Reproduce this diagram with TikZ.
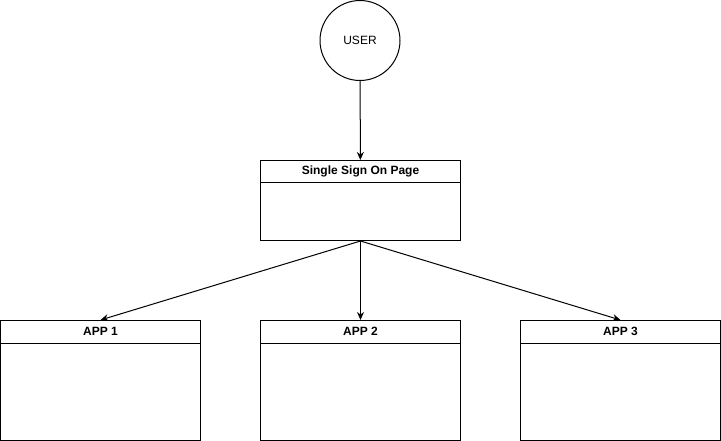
\documentclass[tikz,border=0pt]{standalone}
\usepackage{fontspec}
\setmainfont{Liberation Sans}
\usepackage{tikz}
\usetikzlibrary{arrows.meta,calc,positioning}

\begin{document}
\begin{tikzpicture}[x=1pt,y=-1pt,line width=1pt,
    win/.style={draw,minimum width=200pt,minimum height=80pt,inner sep=0pt},
    appwin/.style={win,minimum height=120pt},
    wintitle/.style={font=\bfseries\fontsize{12}{14}\selectfont,inner sep=0pt},
    link/.style={-{Stealth[length=8pt,width=7pt]}}]
     \useasboundingbox (0,0) rectangle (721,441);

     \node[circle,draw,minimum size=80pt,inner sep=0pt,font=\fontsize{12}{14}\selectfont] (user) at (360,40.5) {USER};

     \node[win] (sso) at (360.5,200.5) {};
     \node[appwin] (app1) at (100.5,380.5) {};
     \node[appwin] (app2) at (360.5,380.5) {};
     \node[appwin] (app3) at (620.5,380.5) {};

     \foreach \b/\t in {sso/Single Sign On Page,app1/APP 1,app2/APP 2,app3/APP 3}{
       \draw ($(\b.north west)+(0,23)$) -- ($(\b.north east)+(0,23)$);
       \node[wintitle] (\b title) at ($(\b.north)+(0,11.5)$) {\t};
     }

     \draw[link] (user) -- (sso);
     \draw[link] (sso.south) -- (app1.north);
     \draw[link] (sso.south) -- (app2.north);
     \draw[link] (sso.south) -- (app3.north);
    \end{tikzpicture}
\end{document}
